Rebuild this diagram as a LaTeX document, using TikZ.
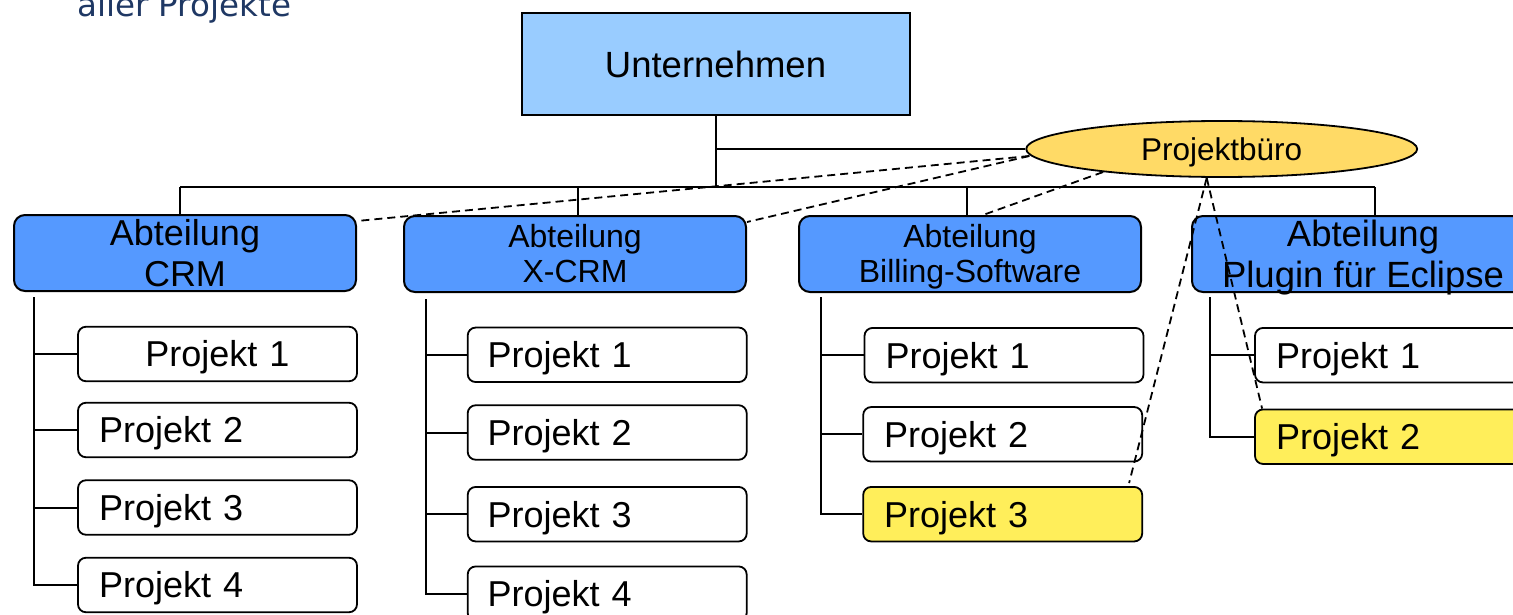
\documentclass[tikz,border=0pt]{standalone}
\usepackage{fontspec}
\setmainfont{Liberation Sans}
\newfontfamily\titlefont{DejaVu Sans}
\usetikzlibrary{shapes.geometric}
\definecolor{untc}{RGB}{153,204,255}
\definecolor{abtc}{RGB}{85,153,255}
\definecolor{pboc}{RGB}{255,218,102}
\definecolor{hlc}{RGB}{255,238,90}
\definecolor{navyc}{RGB}{31,56,100}
\newcommand{\fsz}[2]{\fontsize{#1}{#2}\selectfont}
\newcommand{\twol}[2]{\begin{tabular}[t]{@{}c@{}}#1\\#2\end{tabular}}
\begin{document}
\begin{tikzpicture}[x=1pt,y=-1pt,
  treeline/.style={line width=2pt},
  dline/.style={line width=1.8pt, dash pattern=on 8pt off 5pt},
  topbox/.style={draw, line width=2pt, fill=untc, minimum width=388, minimum height=102,
    inner sep=0, font=\fsz{36.5}{42}, text height=26.1pt, text depth=0pt},
  abtbox/.style={draw, line width=2pt, fill=abtc, rounded corners=11, minimum width=342,
    minimum height=76, inner sep=0},
  pbox/.style={draw, line width=1.8pt, fill=white, rounded corners=8, minimum height=54.5,
    inner ysep=0, inner xsep=21, text width=237, align=left, font=\fsz{36}{41},
    text height=25.8pt, text depth=0pt},
  hlbox/.style={pbox, fill=hlc},
  pbell/.style={ellipse, draw, line width=1.8pt, fill=pboc, minimum width=391, minimum height=56,
    inner sep=0, font=\fsz{31.5}{36}, text height=22.5pt, text depth=0pt}
]
\useasboundingbox (0,0) rectangle (1513,615);
\clip (0,0) rectangle (1513,615);

% title fragment
\node[anchor=base west, inner sep=0, font=\titlefont\fsz{32.5}{38}, text=navyc] (title) at (77,17) {aller Projekte};

% top
\node[topbox] (U) at (715.5,64) {Unternehmen};
\node[pbell] (PB) at (1221.7,149) {Projektbüro};

% departments
\node[abtbox, font=\fsz{36}{41}, text height=20pt, text depth=36pt] (abt1) at (185,253) {\twol{Abteilung}{CRM}};
\node[abtbox, font=\fsz{32}{35.5}, text height=20pt, text depth=34pt] (abt2) at (575,254) {\twol{Abteilung}{X-CRM}};
\node[abtbox, font=\fsz{32}{35.5}, text height=20pt, text depth=34pt] (abt3) at (970,254) {\twol{Abteilung}{Billing-Software}};
\node[abtbox, font=\fsz{36.5}{41}, text height=20pt, text depth=36pt] (abt4) at (1363,254) {\twol{Abteilung}{Plugin für Eclipse}};

% projects CRM
\node[pbox, align=center] (p11) at (217.5,354) {Projekt 1};
\node[pbox] (p12) at (217.5,430) {Projekt 2};
\node[pbox] (p13) at (217.5,507.5) {Projekt 3};
\node[pbox] (p14) at (217.5,585) {Projekt 4};
% projects X-CRM
\node[pbox, inner xsep=20, text width=239] (p21) at (607.2,354.8) {Projekt 1};
\node[pbox, inner xsep=20, text width=239] (p22) at (607.2,432.5) {Projekt 2};
\node[pbox, inner xsep=20, text width=239] (p23) at (607.2,514.2) {Projekt 3};
\node[pbox, inner xsep=20, text width=239] (p24) at (607.2,593.7) {Projekt 4};
% projects Billing
\node[pbox] (p31) at (1004,355.2) {Projekt 1};
\node[pbox] (p32) at (1002.7,434.3) {Projekt 2};
\node[hlbox] (p33) at (1002.7,514.2) {Projekt 3};
% projects Plugin
\node[pbox] (p41) at (1394.5,355.2) {Projekt 1};
\node[hlbox] (p42) at (1394.5,436.7) {Projekt 2};

% top tree
\coordinate (bar1) at (180,187);
\coordinate (bar2) at (578,187);
\coordinate (bar3) at (967,187);
\coordinate (bar4) at (1375,187);
\draw[treeline] (U.south) -- (U.south |- bar1);
\draw[treeline] (U.south |- PB.west) -- (PB.west);
\draw[treeline] (bar1) -- (bar4);
\draw[treeline] (bar1) -- (bar1 |- abt1.north);
\draw[treeline] (bar2) -- (bar2 |- abt2.north);
\draw[treeline] (bar3) -- (bar3 |- abt3.north);
\draw[treeline] (bar4) -- (bar4 |- abt4.north);

% project trees
\coordinate (v1) at (34,297);
\coordinate (v2) at (426,299);
\coordinate (v3) at (821,297);
\coordinate (v4) at (1210,297);
\draw[treeline] (v1) |- (p14.west);
\draw[treeline] (v1 |- p11.west) -- (p11.west);
\draw[treeline] (v1 |- p12.west) -- (p12.west);
\draw[treeline] (v1 |- p13.west) -- (p13.west);
\draw[treeline] (v2) |- (p24.west);
\draw[treeline] (v2 |- p21.west) -- (p21.west);
\draw[treeline] (v2 |- p22.west) -- (p22.west);
\draw[treeline] (v2 |- p23.west) -- (p23.west);
\draw[treeline] (v3) |- (p33.west);
\draw[treeline] (v3 |- p31.west) -- (p31.west);
\draw[treeline] (v3 |- p32.west) -- (p32.west);
\draw[treeline] (v4) |- (p42.west);
\draw[treeline] (v4 |- p41.west) -- (p41.west);

% dashed links from Projektbuero
\coordinate (pbl) at ([xshift=4pt,yshift=-7pt]PB.west);
\coordinate (pbb) at ([xshift=-15pt]PB.south);
\draw[dline] (pbl) -- ([yshift=-7pt]abt1.north east);
\draw[dline] (pbl) -- ([yshift=-7pt]abt2.north east);
\draw[dline] (PB.191) -- ([xshift=13pt]abt3.north);
\draw[dline] (pbb) -- ([xshift=-14pt,yshift=3pt]p33.north east);
\draw[dline] (pbb) -- ([xshift=8pt]p42.north west);
\end{tikzpicture}
\end{document}
